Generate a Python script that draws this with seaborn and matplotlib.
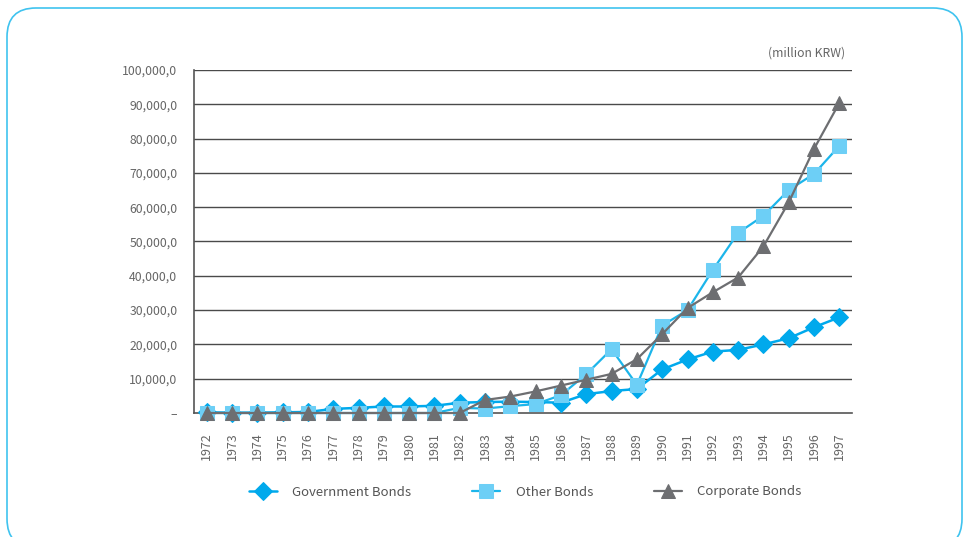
import matplotlib
matplotlib.use("Agg")
import matplotlib.pyplot as plt
import seaborn as sns
import pandas as pd
from matplotlib.patches import FancyBboxPatch
from matplotlib.ticker import FixedLocator, FuncFormatter

years = [str(y) for y in range(1972, 1998)]
government = [200, 100, 100, 200, 300, 1200, 1500, 1900, 1900, 2100, 3000, 3200, 3300, 3200, 3000,
              5500, 6400, 7000, 12700, 15600, 17900, 18400, 20000, 21800, 25000, 27900]
other = [0, 0, 0, 0, 0, 0, 0, 0, 0, 0, 1500, 1300, 2000, 2600, 5200,
         11300, 18600, 8200, 25500, 30000, 41700, 52500, 57500, 65000, 69700, 77900]
corporate = [0, 0, 0, 0, 0, 0, 0, 0, 0, 0, 0, 3800, 4800, 6300, 8000,
             9700, 11400, 15700, 23000, 30600, 35200, 39500, 48600, 61400, 77000, 90400]
series_names = ["Government Bonds", "Other Bonds", "Corporate Bonds"]
yticks = list(range(0, 100001, 10000))
unit_label = "(million KRW)"

sns.set_theme(style="white")
plt.rcParams['font.family'] = ['Noto Sans CJK KR', 'DejaVu Sans']
plt.rcParams['font.weight'] = 'light'

df = pd.DataFrame({"idx": list(range(len(years))) * 3,
                   "value": government + other + corporate,
                   "series": sum([[n] * len(years) for n in series_names], [])})

fig = plt.figure(figsize=(9.64, 5.37), dpi=100)
ax = fig.add_axes([194 / 964, 1 - 413 / 537, (852 - 194) / 964, (413 - 70) / 537])

styles = {
    "Government Bonds": dict(color="#00a9ec", marker="D", mfc="#00a9ec", mec="#00a9ec", ms=9, lw=1.8),
    "Other Bonds": dict(color="#1cb5ea", marker="s", mfc="#6dcff6", mec="#6dcff6", ms=9.5, lw=1.6),
    "Corporate Bonds": dict(color="#6d6e71", marker="^", mfc="#6d6e71", mec="#6d6e71", ms=10.5, lw=1.6),
}
for name in series_names:
    st = styles[name]
    sub = df[df.series == name]
    sns.lineplot(data=sub, x="idx", y="value", ax=ax, color=st["color"], marker=st["marker"],
                 markerfacecolor=st["mfc"], markeredgecolor=st["mec"], markersize=st["ms"],
                 linewidth=st["lw"], label=name, zorder=3, clip_on=False)

ax.set_xlim(-0.5, len(years) - 0.5)
ax.set_ylim(0, 100000)
ax.yaxis.set_major_locator(FixedLocator(yticks))
ax.yaxis.set_major_formatter(FuncFormatter(lambda v, p: "–" if v == 0 else f"{int(v):,},0"))
ax.set_xticks(range(len(years)))
ax.set_xticklabels(years, rotation=90)
ax.set_xlabel("")
ax.set_ylabel("")
for v in yticks[1:]:
    ax.axhline(v, color="#4a4a4a", lw=1.0, zorder=1)
for s in ["top", "right"]:
    ax.spines[s].set_visible(False)
ax.spines["left"].set_color("#555555")
ax.spines["bottom"].set_color("#555555")
ax.spines["left"].set_linewidth(1.2)
ax.spines["bottom"].set_linewidth(1.2)
ax.tick_params(axis="y", length=0, pad=12, labelsize=8.8, labelcolor="#666666")
ax.tick_params(axis="x", length=0, pad=14, labelsize=9, labelcolor="#666666")

fig.text(845 / 964, 1 - 53 / 537, unit_label, ha="right", va="center", fontsize=8.8, color="#666666")

ax.legend().remove()
handles, labels = ax.get_legend_handles_labels()
fig.legend(handles, labels, loc="center", bbox_to_anchor=(0.545, 1 - 492 / 537), ncol=3,
           frameon=False, fontsize=9.5, labelcolor="#555555", handlelength=2.1,
           handletextpad=1.2, columnspacing=4.6)

box = FancyBboxPatch((7 / 964, -0.02), (962 - 7) / 964, 1 - 8 / 537 + 0.02,
                     boxstyle="round,pad=0,rounding_size=0.03", transform=fig.transFigure,
                     fill=False, edgecolor="#3fc3ef", lw=1.2, mutation_aspect=964 / 537)
fig.patches.append(box)

fig.savefig("out.png", dpi=100)
